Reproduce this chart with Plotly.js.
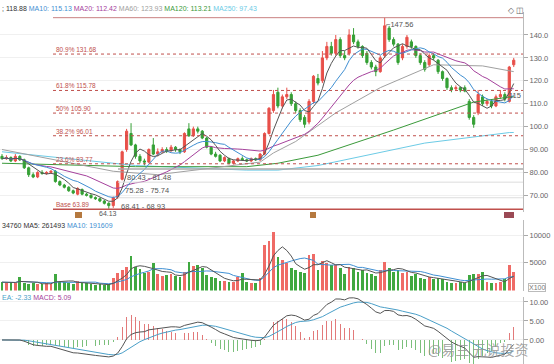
<!DOCTYPE html>
<html><head><meta charset="utf-8">
<script src="https://cdn.plot.ly/plotly-3.0.1.min.js"></script>
<style>html,body{margin:0;padding:0;background:#fff}#chart{width:554px;height:364px}</style>
</head><body><div id="chart"></div>
<script>
// ---- candle data ----
const openP  = [87,86,86.5,85,87,85.5,82,79,78,80,79.5,80,80.5,76,74.5,73.5,72,70.5,72.5,70.5,70,69,68.5,67.5,66.5,
65.5,69,77,90,97,92,87,85,84.5,92,88,89,90,89.5,91,90,89,99,96,99,98,95,91,88,87.5,85,86,84,85,86,85.5,85,86,85.5,88,
97,107,115,109,113,114,110,107,104,102,111,121,120,130,135,132,138,131,132,140,137,135,132,128,126,124,131,143,138,136,
130,135,137,135,131,128,127,131,129,124,121,117,116.5,117,117,111,104,106,113,110,111,109,113,114,111,127];
const closeP = [86,86.5,85,87,85.5,82,79,78,80,79.5,80,80.5,76,74.5,73.5,72,71,73,70.5,70,69,68.5,67.5,66.5,65.5,
69,76,89,98,92,87,85,84.5,90,88,89,90,89.5,91,90,89,97,96,99,98,95,91,88,87,85,86.5,84,85,86,85.5,85,86,85.5,88,97,
108,114,109,113,114,110,107,103,101,111,122,119,130,135,132,138,131,130,140,137,135,131,128,126,124,130,144,138,136,128,
135,139,135,131,128,125,131,130,124,121,117,116,117,116,115.5,104,101,114,110,111,109,113,114,112,126,129];
const highP  = [88,87.5,87,88,87.5,86,82.5,80,80.5,81,80.5,81,81,76.5,75,74,72.5,73.5,73,71,70.5,69.5,69,68,67,
69.5,76.5,89.5,99,101.5,92.5,88,86,90.5,95,90.5,91,91,92,91.5,90.5,97.5,101.5,100,100,98.5,95.5,91.5,89,88,87,86.5,85.5,86.5,87,86,86.5,86.5,88.5,97.5,
108.5,116,117,114,117,115,111,108,105,112,122.5,123,133,137,137,140,139,133,142.5,143,138,135.5,133,129,127,131,147.56,144,139,136.5,
136,140,138,135.5,132,129,132,132,129.5,124.5,121.5,118,118,117.5,118,112,105,116,114,112,112,114,116,115,126.5,130];
const lowP   = [85.5,85.5,84.5,84.5,85,81.5,78,77.5,77.5,79,79,79.5,75.5,74,73,71.5,70.5,70,70,69.5,68.5,68,67,66,64.13,
64.5,68.5,76.5,89,91.5,86,84,83,84,87.5,87,88.5,88.5,89,89,88,88.5,95.5,95.5,97,94.5,90.5,87.5,86.5,84.5,84.5,83.5,83.5,84.5,85,84.5,84.5,85,85,87.5,
96.5,106,108,108,112,109,106,102,99.5,101,110,118,119,129,131,131,130,129,131,136,134,130,127,125,122,123.5,130,137,135,127,
129,134,134,130,127,124,126,129,123,120,116,115,115.5,115,115,103,99.5,105,109,109,108,108.5,112,111,110.5,126];
const volume = [1500,1400,1500,1400,2400,1300,1200,1300,1200,1100,1300,1200,3000,1600,1500,1300,1200,1700,1400,1300,1100,1000,1100,1000,1100,
2200,3100,3700,4200,6300,4300,3800,3200,3400,5000,3000,2600,2800,3000,2600,2500,3300,5200,4500,4600,4000,2800,2500,2200,1800,1700,1600,1500,2400,3100,1500,1400,1300,2200,8200,
9000,10600,6100,5500,4900,4000,3700,3400,3200,6400,6600,3700,5300,4900,4600,4600,4000,2900,4300,4000,3400,3700,3200,2900,2600,3700,5100,4000,3400,3700,
3200,3400,2600,2900,2300,2000,2400,2000,2300,2000,1600,1300,1300,1600,1300,2800,2900,3000,3300,1600,1300,1300,1600,2000,4600,3400];

// long moving averages, read at sample candles
const ma60At  = [0,25,35,58,61,66,75,85,97,108,115];
const ma60V   = [90,80.5,79,84.5,88.5,93.5,106,117,127,126.5,124];
const ma120At = [0,30,55,62,71,88,106,115];
const ma120V  = [84,82.5,82.5,84,87.5,98.5,110.7,113.2];
const ma250At = [0,30,55,62,71,95,114,115];
const ma250V  = [89,83,81,81,83,92.8,97.4,97.43];

// retracement levels and labels
const fibVals = [131.68,115.78,105.90,96.01,83.77];
const fibText = ['80.9% 131.68','61.8% 115.78','50% 105.90','38.2% 96.01','23.6% 83.77'];
const baseVal = 63.89, topVal = 147.56, lowVal = 64.13;
const gapVals = [81.48,75.74,68.93];
const gapText = ['80.43 - 81.48','75.28 - 75.74','68.41 - 68.93'];
const priceTicks = [70,80,90,100,110,120,130,140];
const priceTickText = ['70.00','80.00','90.00','100.0','110.0','120.0','130.0','140.0'];
const volTicks = [5000,10000];
const macdTicks = [0,5,10];
const macdTickText = ['0.00','5.00','10.00'];

// ---- helpers ----
const N = closeP.length;
const idx = closeP.map((_, i) => i);
function sma(a, n){return a.map((_, i)=>{const s=Math.max(0,i-n+1);let t=0;for(let k=s;k<=i;k++)t+=a[k];return t/(i-s+1);});}
function ema(a, n){const al=2/(n+1);const o=[];a.forEach((v,i)=>o.push(i?o[i-1]+al*(v-o[i-1]):v));return o;}
const ma5=sma(closeP,5), ma10=sma(closeP,10), ma20=sma(closeP,20);
const vma5=sma(volume,5), vma10=sma(volume,10);
const e12=ema(closeP,12), e26=ema(closeP,26);
const dif=e12.map((v,i)=>v-e26[i]);
const dea=ema(dif,9);
const hist=dif.map((v,i)=>2*(v-dea[i]));

const RED='#e8504a', GREEN='#35a035';
const up = closeP.map((c,i)=>c>=openP[i]);
const volColors = up.map(u=>u?'#ef6b66':'#3fa83f');
const histColors = hist.map(h=>h>=0?'#e27a7a':'#7bbf7b');

const line=(x,y,color,ax,w)=>({type:'scatter',mode:'lines',x:x,y:y,yaxis:ax,line:{color:color,width:w||1},hoverinfo:'skip'});

const traces=[
 {type:'candlestick',x:idx,open:openP,high:highP,low:lowP,close:closeP,yaxis:'y',whiskerwidth:0,
  increasing:{line:{color:RED,width:1},fillcolor:RED},decreasing:{line:{color:GREEN,width:1},fillcolor:GREEN},hoverinfo:'skip'},
 line(ma250At,ma250V,'#6ccbe6','y'),
 line(ma120At,ma120V,'#3a9a3a','y'),
 line(ma60At,ma60V,'#a0a0a0','y'),
 line(idx,ma20,'#a5419c','y'),
 line(idx,ma10,'#3f8fd2','y'),
 line(idx,ma5,'#555555','y'),
 {type:'bar',x:idx,y:volume,yaxis:'y2',width:0.62,marker:{color:volColors},hoverinfo:'skip'},
 line(idx,vma10,'#3f8fd2','y2'),
 line(idx,vma5,'#555555','y2'),
 {type:'bar',x:idx,y:hist,yaxis:'y3',width:0.22,marker:{color:histColors},hoverinfo:'skip'},
 line(idx,dea,'#4a9fc8','y3'),
 line(idx,dif,'#555555','y3')
];

const H=364, PW=523;
const py=px=>1-px/H;
const shapes=[];
fibVals.forEach(v=>shapes.push({type:'line',xref:'paper',yref:'y',x0:53/PW,x1:1,y0:v,y1:v,line:{color:'#c0504d',width:1,dash:'dot'}}));
shapes.push({type:'line',xref:'paper',yref:'y',x0:53/PW,x1:1,y0:baseVal,y1:baseVal,line:{color:'#c0504d',width:1.5}});
shapes.push({type:'line',xref:'paper',yref:'y',x0:53/PW,x1:1,y0:topVal,y1:topVal,line:{color:'#c98080',width:1}});
gapVals.forEach((v,k)=>shapes.push({type:'line',xref:'paper',yref:'y',x0:118/PW,x1:1,y0:v,y1:v,line:{color:k===0?'#aaaaaa':'#dddddd',width:k===0?1.5:1}}));
// small icons under price panel
[[75,82,'#b5793f'],[310,316,'#b5793f'],[504,514,'#9b4a55']].forEach(s=>shapes.push({type:'rect',xref:'paper',yref:'paper',x0:s[0]/PW,x1:s[1]/PW,y0:py(218),y1:py(212),fillcolor:s[2],line:{width:0}}));

const F='Liberation Sans, Arial, sans-serif';
const ann=[];
fibText.forEach((t,k)=>ann.push({xref:'paper',yref:'y',x:54/PW,y:fibVals[k],text:t,showarrow:false,xanchor:'left',yanchor:'bottom',yshift:-1,font:{family:F,size:6.5,color:'#c0504d'}}));
ann.push({xref:'paper',yref:'y',x:54/PW,y:baseVal,text:'Base 63.89',showarrow:false,xanchor:'left',yanchor:'bottom',yshift:-1,font:{family:F,size:6.5,color:'#c0504d'}});
ann.push({xref:'x',yref:'y',x:86,y:topVal,text:'⌐147.56',showarrow:false,xanchor:'left',yanchor:'top',xshift:-1,font:{family:F,size:7.5,color:'#555'}});
ann.push({xref:'paper',yref:'y',x:119/PW,y:lowVal,text:'64.13',showarrow:false,xanchor:'right',yanchor:'top',yshift:1,font:{family:F,size:7,color:'#555'}});
const gapX=[125,123,119];
gapText.forEach((t,k)=>ann.push({xref:'paper',yref:'y',x:gapX[k]/PW,y:gapVals[k],text:t,showarrow:false,xanchor:'left',yanchor:'top',yshift:-2,font:{family:F,size:7.5,color:'#555'}}));
ann.push({xref:'paper',yref:'paper',x:507/PW,y:py(96),text:'115',showarrow:false,xanchor:'left',yanchor:'middle',font:{family:F,size:7.5,color:'#555'}});
ann.push({xref:'paper',yref:'paper',x:0,y:py(8),xanchor:'left',yanchor:'middle',showarrow:false,font:{family:F,size:7,color:'#333'},
 text:'; 118.88 <span style="color:#3f8fd2">MA10: 115.13</span> <span style="color:#a5419c">MA20: 112.42</span> <span style="color:#a0a0a0">MA60: 123.93</span> <span style="color:#3a9a3a">MA120: 113.21</span> <span style="color:#6ccbe6">MA250: 97.43</span>'});
ann.push({xref:'paper',yref:'paper',x:1.005,y:py(10),xanchor:'right',yanchor:'middle',showarrow:false,text:'◇ ◫',font:{family:F,size:8,color:'#666'}});
ann.push({xref:'paper',yref:'paper',x:0,y:py(225),xanchor:'left',yanchor:'middle',showarrow:false,font:{family:F,size:7,color:'#333'},
 text:'34760 MA5: 261493 <span style="color:#3f8fd2">MA10: 191609</span>'});
ann.push({xref:'paper',yref:'paper',x:0,y:py(297),xanchor:'left',yanchor:'middle',showarrow:false,font:{family:F,size:7,color:'#4a9fc8'},
 text:'EA: -2.33 <span style="color:#a5419c">MACD: 5.09</span>'});
ann.push({xref:'paper',yref:'paper',x:1.01,y:py(287),xanchor:'left',yanchor:'middle',showarrow:false,text:'X100',bordercolor:'#bbb',borderwidth:1,borderpad:0,font:{family:F,size:7,color:'#777'}});
ann.push({xref:'paper',yref:'paper',x:478/PW,y:py(349),xanchor:'center',yanchor:'middle',showarrow:false,text:'@易三 元说投资',font:{family:'Noto Sans CJK SC',size:14,color:'rgba(150,150,150,0.85)'}});

const yax=(dom,rng,tv,tt)=>({domain:dom,range:rng,side:'right',anchor:'x',tickvals:tv,ticktext:tt,ticks:'outside',ticklen:4,tickcolor:'#aaa',
 tickfont:{family:F,size:7.5,color:'#666'},showline:true,linecolor:'#bbb',linewidth:1,gridcolor:'#f0f0f0',zeroline:false,fixedrange:true});

const layout={
 width:554,height:364,margin:{l:0,r:31,t:0,b:0},paper_bgcolor:'#fff',plot_bgcolor:'#fff',showlegend:false,
 xaxis:{domain:[0,1],range:[-0.449,117.08],anchor:'y3',showticklabels:false,showgrid:false,zeroline:false,showline:false,rangeslider:{visible:false},fixedrange:true},
 yaxis:yax([py(212),py(12)],[62.71,150.04],priceTicks,priceTickText),
 yaxis2:yax([py(290.5),py(220)],[0,12725],volTicks,volTicks.map(String)),
 yaxis3:yax([0,py(297)],[-6.32,11.3],macdTicks,macdTickText),
 shapes:shapes,annotations:ann,bargap:0
};
Plotly.newPlot('chart',traces,layout,{displayModeBar:false,staticPlot:true});
</script></body></html>
